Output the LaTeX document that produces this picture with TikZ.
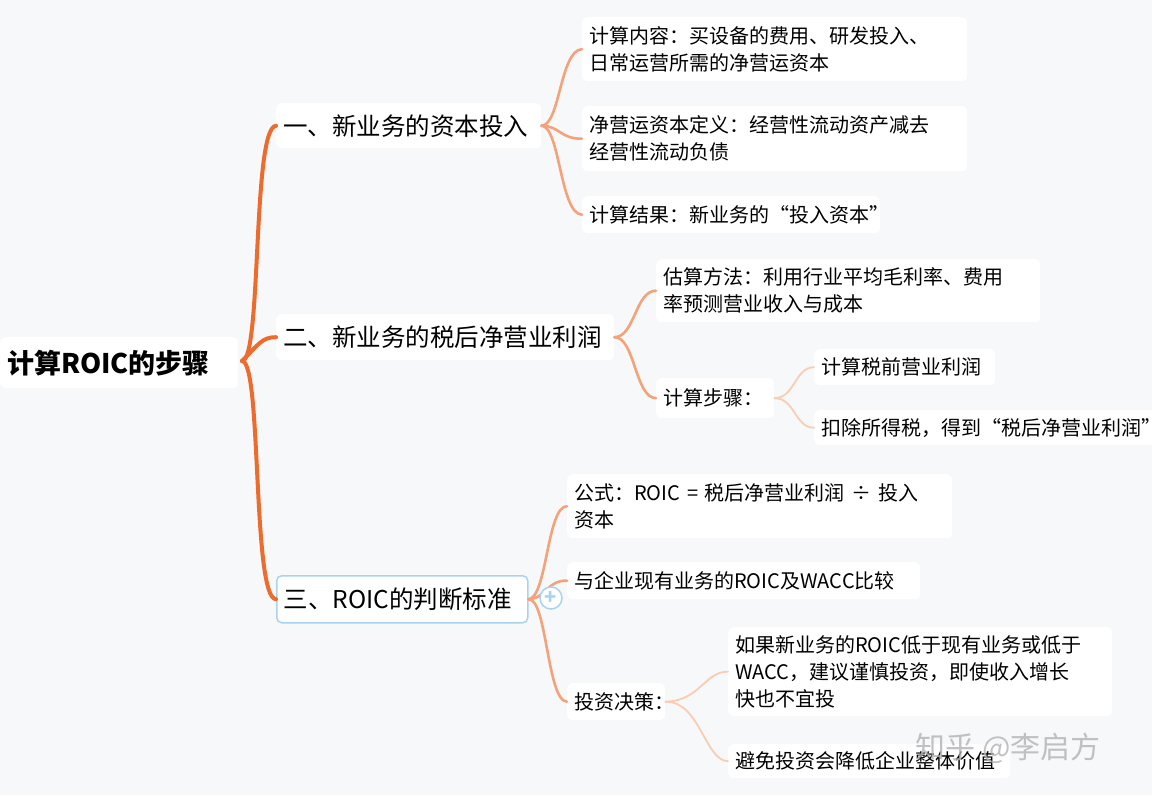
\documentclass[tikz,border=0pt]{standalone}
\usepackage{fontspec}
\setmainfont{Noto Sans CJK SC}
\definecolor{bg}{HTML}{F7F8FA}
\definecolor{c1}{HTML}{EE6B2E}
\definecolor{c2}{HTML}{F4A27A}
\definecolor{c3}{HTML}{F9CDB3}
\definecolor{blu}{HTML}{A9D2F0}
\begin{document}
\begin{tikzpicture}[x=1pt,y=-1pt,
 box/.style={fill=white,rounded corners=5pt,anchor=north west,inner xsep=7pt,inner ysep=0pt,align=left,font=\fontsize{20}{27}\selectfont},
 l1/.style={box,font=\fontsize{24.5}{28}\selectfont},
 e1/.style={draw=c1,line width=4pt,line cap=round},
 e2/.style={draw=c2,line width=2.6pt,line cap=round},
 e3/.style={draw=c3,line width=1.8pt,line cap=round}]
\fill[bg] (0,0) rectangle (1152,795);
\useasboundingbox (0,0) rectangle (1152,795);
% nodes
\node[box,font=\fontsize{27}{30}\selectfont\bfseries,text width=224pt,minimum height=51pt] (root) at (0,337) {计算ROIC的步骤};
\node[l1,text width=251pt,minimum height=45pt] (A) at (276,103) {一、新业务的资本投入};
\node[l1,text width=324pt,minimum height=46pt] (B) at (276,314) {二、新业务的税后净营业利润};
\node[l1,text width=237pt,minimum height=47pt,draw=blu,line width=1.5pt] (C) at (276,575) {三、ROIC的判断标准};
\node[box,text width=371pt,minimum height=64pt] (a1) at (582,17) {计算内容：买设备的费用、研发投入、\\日常运营所需的净营运资本};
\node[box,text width=371pt,minimum height=65pt] (a2) at (582,106) {净营运资本定义：经营性流动资产减去\\经营性流动负债};
\node[box,text width=284pt,minimum height=37pt] (a3) at (582,196) {计算结果：新业务的“投入资本”};
\node[box,text width=370pt,minimum height=63pt] (b1) at (656,259) {估算方法：利用行业平均毛利率、费用\\率预测营业收入与成本};
\node[box,text width=104pt,minimum height=40pt] (b2) at (656,378) {计算步骤：};
\node[box,text width=167pt,minimum height=36pt] (b2a) at (814,349) {计算税前营业利润};
\node[box,text width=330pt,minimum height=35pt] (b2b) at (814,410) {扣除所得税，得到“税后净营业利润”};
\node[box,text width=371pt,minimum height=64pt] (cc1) at (567,474) {公式：ROIC = 税后净营业利润 ÷ 投入\\资本};
\node[box,text width=339pt,minimum height=37pt] (cc2) at (567,562) {与企业现有业务的ROIC及WACC比较};
\node[box,text width=84pt,minimum height=37pt] (cc3) at (567,683) {投资决策：};
\node[box,text width=370pt,minimum height=89pt] (d1) at (728,627) {如果新业务的ROIC低于现有业务或低于\\WACC，建议谨慎投资，即使收入增长\\快也不宜投};
\node[box,text width=268pt,minimum height=34pt] (d2) at (728,744) {避免投资会降低企业整体价值};
% connectors
\coordinate (r) at (242,361);
\draw[e1] (r) .. controls (262,361) and (252,128) .. (A.west);
\draw[e1] (r) .. controls (258,345) and (262,337) .. (B.west);
\draw[e1] (r) .. controls (262,361) and (252,598) .. (C.west);
\draw[e2] (A.east) .. controls (560,126) and (560,50) .. (a1.west);
\draw[e2] (A.east) .. controls (560,126) and (560,139) .. (a2.west);
\draw[e2] (A.east) .. controls (560,126) and (560,214) .. (a3.west);
\draw[e2] (B.east) .. controls (635,337) and (635,291) .. (b1.west);
\draw[e2] (B.east) .. controls (635,337) and (635,398) .. (b2.west);
\draw[e3] (b2.east) .. controls (795,398) and (795,367) .. (b2a.west);
\draw[e3] (b2.east) .. controls (795,398) and (795,428) .. (b2b.west);
\draw[e2] (C.east) .. controls (547,598) and (547,506) .. (cc1.west);
\draw[e2] (C.east) .. controls (547,598) and (547,580) .. (cc2.west);
\draw[e2] (C.east) .. controls (547,598) and (547,701) .. (cc3.west);
\draw[e3] (cc3.east) .. controls (700,701) and (705,671) .. (d1.west);
\draw[e3] (cc3.east) .. controls (700,701) and (705,761) .. (d2.west);
\node[circle,draw=blu,fill=white,line width=1.5pt,minimum size=22pt,inner sep=0pt,text=blu,font=\bfseries\fontsize{20}{20}\selectfont] (plus) at (551,598) {+};
\node[text=black!30,opacity=0.8,font=\fontsize{30}{32}\selectfont,anchor=west] (wm) at (912,748) {知乎 @李启方};
\end{tikzpicture}
\end{document}
